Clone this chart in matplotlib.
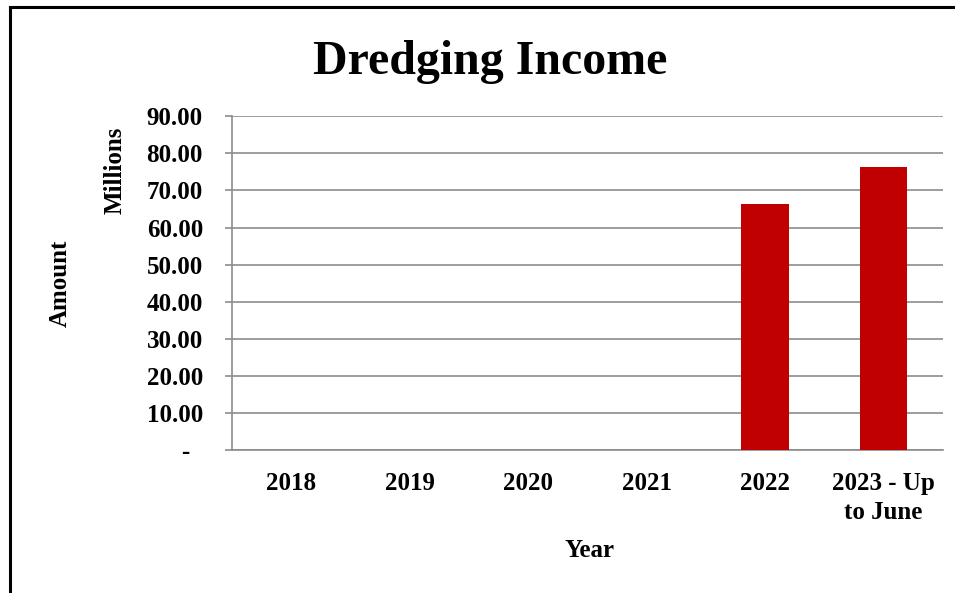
import numpy as np
import matplotlib.pyplot as plt
from matplotlib.lines import Line2D

plt.rcParams['font.family'] = 'Liberation Serif'
plt.rcParams['font.weight'] = 'bold'

years = ['2018', '2019', '2020', '2021', '2022', '2023 - Up\nto June']
income = [0, 0, 0, 0, 66.4, 76.4]
y_ticks = [0, 10, 20, 30, 40, 50, 60, 70, 80, 90]
y_labels = ['-  '] + ['{:.2f}'.format(v) for v in y_ticks[1:]]

fig = plt.figure(figsize=(9.55, 5.93), dpi=100)
ax = fig.add_axes([0.243, 0.241, 0.744, 0.563])

x = np.arange(len(years))
ax.bar(x, income, width=0.4, color='#C00000', zorder=3)

ax.set_xlim(-0.5, len(years) - 0.5)
ax.set_ylim(0, 90)
ax.set_yticks(y_ticks)
ax.set_yticklabels(y_labels)
ax.set_xticks(x)
ax.set_xticklabels(years, linespacing=1.3)

ax.grid(axis='y', color='#8c8c8c', linewidth=1.2, zorder=0)
for s in ['top', 'right']:
    ax.spines[s].set_visible(False)
ax.spines['left'].set_color('#8c8c8c')
ax.spines['bottom'].set_color('#8c8c8c')
ax.spines['left'].set_linewidth(1.2)
ax.spines['bottom'].set_linewidth(1.2)
ax.tick_params(axis='y', length=5, width=1.2, color='#8c8c8c', pad=16, labelsize=18)
ax.tick_params(axis='x', length=0, pad=16, labelsize=18)

fig.text(0.513, 0.896, 'Dredging Income', ha='center', va='center', fontsize=34.5, fontweight='bold')
fig.text(0.617, 0.072, 'Year', ha='center', va='center', fontsize=18, fontweight='bold')
fig.text(0.063, 0.523, 'Amount', ha='center', va='center', rotation=90, fontsize=18, fontweight='bold')
fig.text(0.121, 0.713, 'Millions', ha='center', va='center', rotation=90, fontsize=18, fontweight='bold')

# frame drawn only on top and left
fig.add_artist(Line2D([0.0105, 1.0], [0.988, 0.988], color='black', linewidth=2.2, transform=fig.transFigure))
fig.add_artist(Line2D([0.0105, 0.0105], [0.0, 0.988], color='black', linewidth=2.2, transform=fig.transFigure))

plt.savefig('out.png', dpi=100)
